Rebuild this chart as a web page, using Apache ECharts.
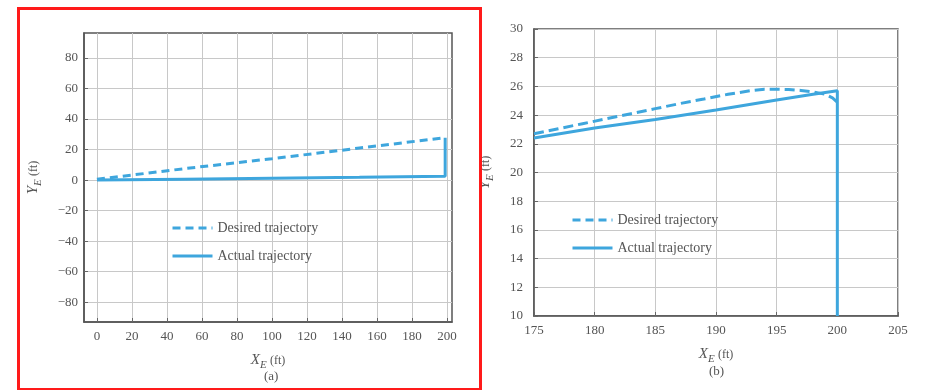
<!DOCTYPE html>
<html>
<head>
<meta charset="utf-8">
<script src="https://cdn.jsdelivr.net/npm/echarts@6/dist/echarts.min.js"></script>
<style>html,body{margin:0;padding:0;background:#fff;}#c{width:928px;height:390px;}</style>
</head>
<body>
<div id="c"></div>
<script>
// Panel (a) data
const desiredA = [[0, 0.5], [50, 7.5], [100, 14], [150, 21], [199, 27.8]];
const actualA = [[0, 0], [50, 0.6], [100, 1.2], [150, 1.8], [199, 2.5], [199, 27.8]];
// Panel (b) data
const desiredB = [[175, 22.7], [177, 23.05], [179, 23.4], [181, 23.75], [183, 24.1], [185, 24.45], [187, 24.8], [189, 25.12], [191, 25.45], [193, 25.72], [194, 25.8], [195, 25.8], [196, 25.78], [197, 25.72], [198, 25.62], [199, 25.45], [199.6, 25.2], [200, 24.9]];
const actualB = [[175, 22.4], [180, 23.1], [185, 23.7], [190, 24.35], [195, 25.05], [198, 25.45], [200, 25.7], [200, 24.9], [200, 10]];
// Tick labels
const xTicksA = [0, 20, 40, 60, 80, 100, 120, 140, 160, 180, 200];
const yTicksA = [-80, -60, -40, -20, 0, 20, 40, 60, 80];
const xTicksB = [175, 180, 185, 190, 195, 200, 205];
const yTicksB = [10, 12, 14, 16, 18, 20, 22, 24, 26, 28, 30];
const names = ['Desired trajectory', 'Actual trajectory'];

const blue = '#3ea6dd';
const serif = '"Liberation Serif", "DejaVu Serif", serif';
const txt = '#555';

function xAxis(gi, min, max, ticks, gap) {
  return {
    type: 'value', gridIndex: gi, min: min, max: max,
    name: '{i|X}{s|E} {n|(ft)}', nameLocation: 'middle', nameGap: gap,
    nameTextStyle: { rich: {
      i: { fontFamily: serif, fontStyle: 'italic', fontSize: 15, color: txt },
      s: { fontFamily: serif, fontStyle: 'italic', fontSize: 11, color: txt, padding: [10, 0, 0, 0] },
      n: { fontFamily: serif, fontSize: 12, color: txt }
    }},
    axisLine: { show: true, onZero: false, lineStyle: { color: '#555', width: 1.5 } },
    axisTick: { show: true, inside: true, length: 4, customValues: ticks, lineStyle: { color: '#666' } },
    axisLabel: { customValues: ticks, fontFamily: serif, fontSize: 13, color: txt, margin: 8 },
    splitLine: { show: true, lineStyle: { color: '#c8c8c8', width: 1 } }
  };
}
function yAxis(gi, min, max, ticks, gap, margin) {
  return {
    type: 'value', gridIndex: gi, min: min, max: max,
    name: '{i|Y}{s|E} {n|(ft)}', nameLocation: 'middle', nameGap: gap, nameRotate: 90,
    nameTextStyle: { rich: {
      i: { fontFamily: serif, fontStyle: 'italic', fontSize: 15, color: txt },
      s: { fontFamily: serif, fontStyle: 'italic', fontSize: 11, color: txt, padding: [10, 0, 0, 0] },
      n: { fontFamily: serif, fontSize: 12, color: txt }
    }},
    axisLine: { show: true, onZero: false, lineStyle: { color: '#555', width: 1.5 } },
    axisTick: { show: true, inside: true, length: 4, customValues: ticks, lineStyle: { color: '#666' } },
    axisLabel: { customValues: ticks, fontFamily: serif, fontSize: 13, color: txt, margin: margin,
      formatter: v => String(v).replace('-', '\u2212') },
    splitLine: { show: true, lineStyle: { color: '#c8c8c8', width: 1 } }
  };
}
function legend(left, top) {
  return {
    data: names, left: left, top: top, orient: 'vertical', itemGap: 14,
    itemWidth: 40, itemHeight: 10, selectedMode: false,
    itemStyle: { opacity: 0 },
    lineStyle: { width: 3 },
    textStyle: { fontFamily: serif, fontSize: 14, color: txt }
  };
}

const chart = echarts.init(document.getElementById('c'), null, { renderer: 'canvas' });
chart.setOption({
  animation: false,
  backgroundColor: '#fff',
  grid: [
    { left: 84, top: 33, width: 368, height: 289, show: true, borderColor: '#555', borderWidth: 1.5 },
    { left: 534, top: 29, width: 364, height: 287, show: true, borderColor: '#555', borderWidth: 1.5 }
  ],
  xAxis: [xAxis(0, -7.4, 202.9, xTicksA, 28), xAxis(1, 175, 205, xTicksB, 28)],
  yAxis: [yAxis(0, -93, 96.4, yTicksA, 40, 6), yAxis(1, 10, 30, yTicksB, 38, 11)],
  legend: [legend(166, 216), legend(566, 208)],
  series: [
    { name: names[0], type: 'line', xAxisIndex: 0, yAxisIndex: 0, data: desiredA, showSymbol: false, symbol: 'none',
      lineStyle: { color: blue, width: 3, type: [8, 5] }, itemStyle: { color: blue } },
    { name: names[1], type: 'line', xAxisIndex: 0, yAxisIndex: 0, data: actualA, showSymbol: false, symbol: 'none',
      lineStyle: { color: blue, width: 3 }, itemStyle: { color: blue } },
    { name: names[0], type: 'line', xAxisIndex: 1, yAxisIndex: 1, data: desiredB, showSymbol: false, symbol: 'none',
      lineStyle: { color: blue, width: 3, type: [10, 5] }, itemStyle: { color: blue } },
    { name: names[1], type: 'line', xAxisIndex: 1, yAxisIndex: 1, data: actualB, showSymbol: false, symbol: 'none',
      lineStyle: { color: blue, width: 3 }, itemStyle: { color: blue } }
  ],
  graphic: [
    { type: 'rect', left: 16, top: 6, shape: { width: 462, height: 381 }, z: 100,
      style: { fill: null, stroke: '#ff1a1a', lineWidth: 3 } },
    { type: 'text', left: 264, top: 370, style: { text: '(a)', font: '13px "Liberation Serif"', fill: txt } },
    { type: 'text', left: 709, top: 365, style: { text: '(b)', font: '13px "Liberation Serif"', fill: txt } }
  ]
});
</script>
</body>
</html>
